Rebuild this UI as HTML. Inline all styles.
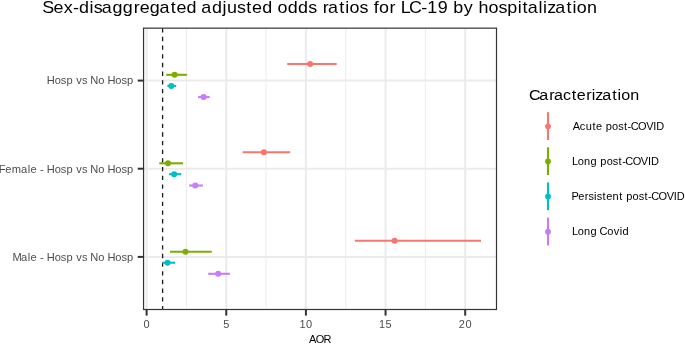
<!DOCTYPE html>
<html><head><meta charset="utf-8">
<style>
html,body{margin:0;padding:0;background:#fff;width:685px;height:344px;overflow:hidden}
svg{display:block;will-change:transform}
text{font-family:"Liberation Sans",sans-serif}
</style></head><body>
<svg width="685" height="344" viewBox="0 0 685 344">
<rect x="0" y="0" width="685" height="344" fill="#fff"/>
<g stroke="#EBEBEB" fill="none">
<g stroke-width="1"><line x1="186.43" y1="28.15" x2="186.43" y2="309.5"/><line x1="266.07" y1="28.15" x2="266.07" y2="309.5"/><line x1="345.73" y1="28.15" x2="345.73" y2="309.5"/><line x1="425.38" y1="28.15" x2="425.38" y2="309.5"/></g>
<g stroke-width="2"><line x1="146.6" y1="28.15" x2="146.6" y2="309.5"/><line x1="226.25" y1="28.15" x2="226.25" y2="309.5"/><line x1="305.9" y1="28.15" x2="305.9" y2="309.5"/><line x1="385.55" y1="28.15" x2="385.55" y2="309.5"/><line x1="465.2" y1="28.15" x2="465.2" y2="309.5"/><line x1="143.55" y1="80.6" x2="496.5" y2="80.6"/><line x1="143.55" y1="168.7" x2="496.5" y2="168.7"/><line x1="143.55" y1="256.9" x2="496.5" y2="256.9"/></g>
</g>
<line x1="162.6" y1="28.15" x2="162.6" y2="309.5" stroke="#1a1a1a" stroke-width="1.3" stroke-dasharray="4.34 4.34"/>
<g stroke-width="2.1" fill="none">
<g stroke="#F8766D"><line x1="287.2" y1="64" x2="336.7" y2="64"/><line x1="242.7" y1="152.3" x2="290.2" y2="152.3"/><line x1="354.8" y1="240.7" x2="481" y2="240.7"/></g>
<g stroke="#7CAE00"><line x1="166.2" y1="74.8" x2="186.9" y2="74.8"/><line x1="159.3" y1="163.3" x2="183.1" y2="163.3"/><line x1="170" y1="251.7" x2="211.75" y2="251.7"/></g>
<g stroke="#00BFC4"><line x1="167.3" y1="85.9" x2="176.2" y2="85.9"/><line x1="169" y1="174.2" x2="181.2" y2="174.2"/><line x1="162.5" y1="262.7" x2="175" y2="262.7"/></g>
<g stroke="#C77CFF"><line x1="198.1" y1="97.1" x2="209.7" y2="97.1"/><line x1="189.2" y1="185.5" x2="202.9" y2="185.5"/><line x1="208.2" y1="273.8" x2="229.9" y2="273.8"/></g>
</g>
<g fill="#F8766D"><circle cx="310.1" cy="64" r="3.0"/><circle cx="263.9" cy="152.3" r="3.0"/><circle cx="394.6" cy="240.7" r="3.0"/></g>
<g fill="#7CAE00"><circle cx="174.6" cy="74.8" r="3.0"/><circle cx="168" cy="163.3" r="3.0"/><circle cx="185.5" cy="251.7" r="3.0"/></g>
<g fill="#00BFC4"><circle cx="171.3" cy="85.9" r="3.0"/><circle cx="174.2" cy="174.2" r="3.0"/><circle cx="167.5" cy="262.7" r="3.0"/></g>
<g fill="#C77CFF"><circle cx="203.6" cy="97.1" r="3.0"/><circle cx="195.3" cy="185.5" r="3.0"/><circle cx="218.2" cy="273.8" r="3.0"/></g>
<rect x="143.55" y="28.15" width="352.95" height="281.35" fill="none" stroke="#333333" stroke-width="1.2"/>
<g stroke="#333333" stroke-width="2"><line x1="137.7" y1="80.6" x2="143" y2="80.6"/><line x1="137.7" y1="168.7" x2="143" y2="168.7"/><line x1="137.7" y1="256.9" x2="143" y2="256.9"/><line x1="146.6" y1="310" x2="146.6" y2="315.6"/><line x1="226.25" y1="310" x2="226.25" y2="315.6"/><line x1="305.9" y1="310" x2="305.9" y2="315.6"/><line x1="385.55" y1="310" x2="385.55" y2="315.6"/><line x1="465.2" y1="310" x2="465.2" y2="315.6"/></g>
<line x1="548" y1="112.2" x2="548" y2="140.0" stroke="#F8766D" stroke-width="2.1"/>
<circle cx="548" cy="126.3" r="2.9" fill="#F8766D"/>
<line x1="548" y1="147.3" x2="548" y2="175.1" stroke="#7CAE00" stroke-width="2.1"/>
<circle cx="548" cy="161.4" r="2.9" fill="#7CAE00"/>
<line x1="548" y1="182.4" x2="548" y2="210.2" stroke="#00BFC4" stroke-width="2.1"/>
<circle cx="548" cy="196.5" r="2.9" fill="#00BFC4"/>
<line x1="548" y1="217.6" x2="548" y2="245.4" stroke="#C77CFF" stroke-width="2.1"/>
<circle cx="548" cy="231.7" r="2.9" fill="#C77CFF"/>
<text x="39.17 49.48 58.99 67.59 73.17 82.92 86.75 94.14 104.06 113.64 123.74 129.39 138.71 147.62 158.06 163.42 172.74 182.23 186.45 196.37 206.03 210.18 219.51 228.09 233.45 242.77 252.26 257.06 266.39 275.97 285.35 293.32 298.73 303.74 314.18 319.75 323.68 332.80 340.78 346.11 350.89 360.73 366.33 371.01 378.72 390.03 395.61 405.25 414.72 419.78 429.41 438.03 443.00 452.40 461.52 469.75 479.33 483.87 488.61 498.68 502.88 506.71 514.16 524.60 530.17 534.10 543.53" y="13.2" font-size="16.6" fill="#000" transform="scale(1.08,1)">Sex-disaggregated adjusted odds ratios for LC-19 by hospitalization</text>
<text x="499.14 508.79 518.16 522.61 531.24 539.41 544.16 552.98 558.24 561.61 568.26 577.64 582.63 586.09 594.51" y="100.2" font-size="15.2" fill="#000" transform="scale(1.06,1)">Caracterization</text>
<text x="540.31 547.00 552.50 558.88 562.32 568.16 571.43 577.38 583.19 588.64 592.00 595.02 601.93 609.58 616.32 619.14" y="130.4" font-size="10.4" fill="#000" transform="scale(1.06,1)">Acute post-COVID</text>
<text x="539.60 545.04 551.05 557.08 563.08 566.35 572.30 578.11 583.56 586.92 589.94 596.85 604.50 611.24 614.06" y="165.4" font-size="10.4" fill="#000" transform="scale(1.06,1)">Long post-COVID</text>
<text x="539.21 545.51 551.77 555.28 560.50 562.96 568.42 571.86 577.87 584.21 587.57 590.84 596.79 602.60 608.05 611.41 614.43 621.34 628.99 635.73 638.55" y="200.4" font-size="10.4" fill="#000" transform="scale(1.06,1)">Persistent post-COVID</text>
<text x="539.60 545.04 551.05 557.08 563.08 565.68 572.91 578.99 584.62 587.22" y="235.4" font-size="10.4" fill="#000" transform="scale(1.06,1)">Long Covid</text>
<text x="44.13 51.57 57.38 62.63 68.55 71.83 77.25 82.31 85.18 92.60 98.46 101.34 108.78 114.59 119.84" y="84.5" font-size="10.5" fill="#4D4D4D" transform="scale(1.06,1)">Hosp vs No Hosp</text>
<text x="-1.07 4.99 11.19 19.88 26.29 28.85 34.71 37.76 41.24 44.13 51.57 57.38 62.63 68.55 71.83 77.25 82.31 85.18 92.60 98.46 101.34 108.78 114.59 119.84" y="172.7" font-size="10.5" fill="#4D4D4D" transform="scale(1.06,1)">Female - Hosp vs No Hosp</text>
<text x="11.70 19.88 26.29 28.85 34.71 37.76 41.24 44.13 51.57 57.38 62.63 68.55 71.83 77.25 82.31 85.18 92.60 98.46 101.34 108.78 114.59 119.84" y="260.8" font-size="10.5" fill="#4D4D4D" transform="scale(1.06,1)">Male - Hosp vs No Hosp</text>
<text x="135.41" y="327.7" font-size="10.4" fill="#4D4D4D" transform="scale(1.06,1)">0</text>
<text x="210.70" y="327.7" font-size="10.4" fill="#4D4D4D" transform="scale(1.06,1)">5</text>
<text x="282.46 288.64" y="327.7" font-size="10.4" fill="#4D4D4D" transform="scale(1.06,1)">10</text>
<text x="357.65 363.80" y="327.7" font-size="10.4" fill="#4D4D4D" transform="scale(1.06,1)">15</text>
<text x="432.85 439.10" y="327.7" font-size="10.4" fill="#4D4D4D" transform="scale(1.06,1)">20</text>
<text x="291.40 297.80 305.25" y="342.7" font-size="10.4" fill="#000" transform="scale(1.06,1)">AOR</text>
</svg>
</body></html>
